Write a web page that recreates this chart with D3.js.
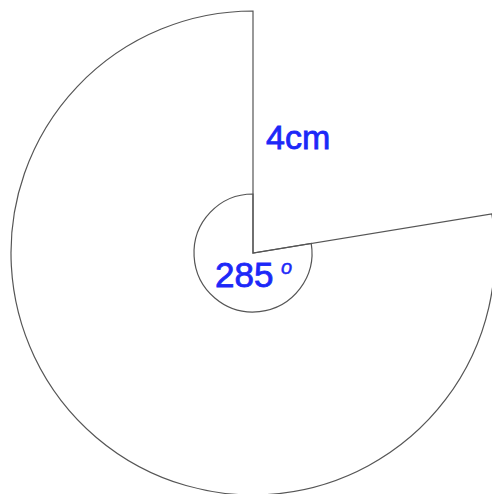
<!DOCTYPE html>
<html lang="en">
<head>
    <meta charset="UTF-8">
    <title>Sector 285 degrees</title>
    <style>
        body { margin: 0; background: #ffffff; }
        .label {
            font-family: "Liberation Sans", Arial, sans-serif;
            fill: #1c28f8;
            stroke: #1c28f8;
            stroke-width: 0.8px;
        }
    </style>
</head>
<body>
<div id="chart"></div>
<script src="https://d3js.org/d3.v7.min.js"></script>
<script>
    // values
    const radiusCm = 4;              // labelled radius
    const angleLabel = 285;          // labelled angle (degrees)
    const edgeAngle = 80.7;          // where the sector edge on the right sits, clockwise from 12 o'clock
    const markerRadiusCm = 0.975;    // small angle marker arc
    const radiusText = "4cm";

    const width = 492, height = 494;
    const cx = 253, cy = 253;

    const svg = d3.select("#chart").append("svg")
        .attr("width", width)
        .attr("height", height);

    const r = d3.scaleLinear().domain([0, radiusCm]).range([0, 242]);
    const ang = d3.scaleLinear().domain([0, 360]).range([0, 2 * Math.PI]);

    const g = svg.append("g").attr("transform", `translate(${cx},${cy})`);

    // main sector (from the right edge round to the top)
    g.append("path")
        .attr("d", d3.arc()
            .innerRadius(0)
            .outerRadius(r(radiusCm))
            .startAngle(ang(edgeAngle))
            .endAngle(ang(360))())
        .attr("fill", "none")
        .attr("stroke", "#555")
        .attr("stroke-width", 1.2);

    // angle marker
    g.append("path")
        .attr("d", d3.arc()
            .innerRadius(0)
            .outerRadius(r(markerRadiusCm))
            .startAngle(ang(edgeAngle))
            .endAngle(ang(360))())
        .attr("fill", "none")
        .attr("stroke", "#555")
        .attr("stroke-width", 1.2);

    // labels
    svg.append("text")
        .attr("class", "label")
        .attr("x", 266)
        .attr("y", 149)
        .attr("font-size", 34)
        .text(radiusText);

    svg.append("text")
        .attr("class", "label")
        .attr("x", 215)
        .attr("y", 287)
        .attr("font-size", 35)
        .text(angleLabel);

    svg.append("text")
        .attr("class", "label")
        .attr("x", 281)
        .attr("y", 274)
        .attr("font-size", 20)
        .attr("font-style", "italic")
        .style("stroke-width", "0.5px")
        .text("o");
</script>
</body>
</html>
